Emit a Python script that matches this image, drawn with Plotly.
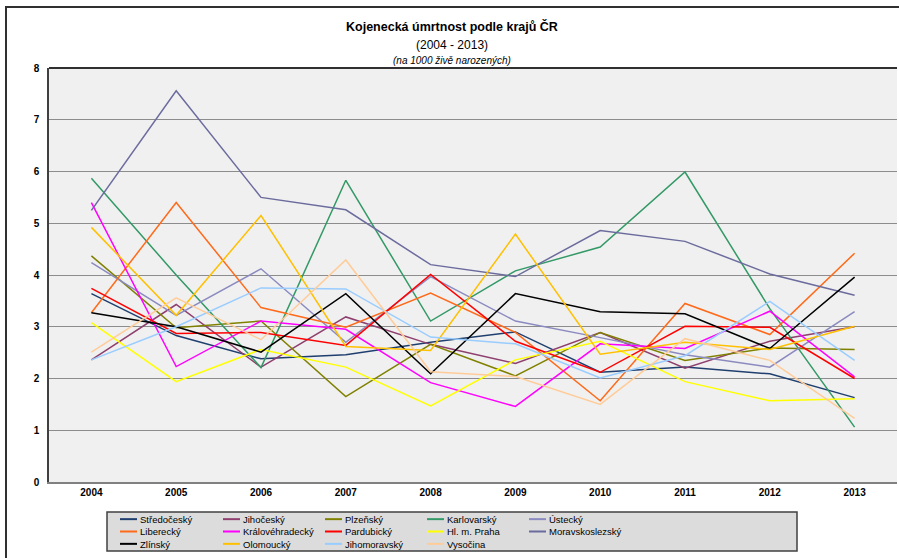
import plotly.graph_objects as go

years = ["2004", "2005", "2006", "2007", "2008", "2009", "2010", "2011", "2012", "2013"]

stredocesky      = [3.64, 2.83, 2.38, 2.46, 2.70, 2.90, 2.12, 2.22, 2.09, 1.63]
jihocesky        = [2.36, 3.43, 2.22, 3.19, 2.66, 2.29, 2.89, 2.20, 2.72, 3.00]
plzensky         = [4.37, 2.98, 3.11, 1.65, 2.66, 2.05, 2.89, 2.35, 2.59, 2.56]
karlovarsky      = [5.87, 4.00, 2.21, 5.83, 3.11, 4.08, 4.54, 5.99, 3.35, 1.06]
ustecky          = [4.24, 3.22, 4.12, 2.70, 3.97, 3.11, 2.79, 2.46, 2.22, 3.29]
liberecky        = [3.27, 5.40, 3.37, 2.99, 3.65, 2.89, 1.57, 3.45, 2.85, 4.42]
kralovehradecky  = [5.40, 2.23, 3.11, 2.95, 1.92, 1.46, 2.67, 2.58, 3.30, 2.03]
pardubicky       = [3.74, 2.87, 2.89, 2.64, 4.01, 2.72, 2.12, 3.01, 2.99, 2.00]
praha            = [3.08, 1.94, 2.56, 2.22, 1.47, 2.36, 2.72, 1.94, 1.57, 1.61]
moravskoslezsky  = [5.25, 7.56, 5.50, 5.26, 4.20, 3.97, 4.86, 4.65, 4.02, 3.61]
zlinsky          = [3.27, 3.00, 2.51, 3.64, 2.09, 3.64, 3.29, 3.25, 2.58, 3.96]
olomoucky        = [4.92, 3.22, 5.15, 2.62, 2.54, 4.79, 2.47, 2.70, 2.56, 3.01]
jihomoravsky     = [2.36, 3.00, 3.75, 3.73, 2.80, 2.67, 2.01, 2.44, 3.49, 2.35]
vysocina         = [2.51, 3.56, 2.75, 4.29, 2.13, 2.04, 1.50, 2.77, 2.35, 1.23]

y_ticks = [0, 1, 2, 3, 4, 5, 6, 7, 8]

series = [
    ("Středočeský", stredocesky, "#1F3F6E"),
    ("Jihočeský", jihocesky, "#8E3F6E"),
    ("Plzeňský", plzensky, "#808000"),
    ("Karlovarský", karlovarsky, "#339966"),
    ("Ústecký", ustecky, "#8A8AC0"),
    ("Liberecký", liberecky, "#FF6A1A"),
    ("Královéhradecký", kralovehradecky, "#FF00FF"),
    ("Pardubický", pardubicky, "#FF0000"),
    ("Hl. m. Praha", praha, "#FFFF00"),
    ("Moravskoslezský", moravskoslezsky, "#6B6B9E"),
    ("Zlínský", zlinsky, "#000000"),
    ("Olomoucký", olomoucky, "#FFC000"),
    ("Jihomoravský", jihomoravsky, "#99CCFF"),
    ("Vysočina", vysocina, "#FFCC99"),
]

FONT = "Liberation Sans Narrow, Liberation Sans, Arial, sans-serif"

fig = go.Figure()
for name, vals, col in series:
    fig.add_trace(go.Scatter(x=years, y=vals, mode="lines", name=name,
                             line=dict(color=col, width=1.5), showlegend=False))

W, H = 899, 558
L, R, T, B = 49, 2, 68, 76
pw, ph = W - L - R, H - T - B

def px2paper_x(px):
    return (px - L) / pw

def px2paper_y(py):
    return (H - B - py) / ph

fig.update_layout(
    width=W, height=H,
    margin=dict(l=L, r=R, t=T, b=B, autoexpand=False),
    paper_bgcolor="white",
    plot_bgcolor="#F0F0F0",
    font=dict(family=FONT, size=10, color="#000000"),
    showlegend=False,
    xaxis=dict(
        type="category",
        showgrid=False,
        showline=True, linecolor="#808080", linewidth=1.5,
        mirror=False,
        ticks="", tickfont=dict(family=FONT, size=10, color="#000000", weight="bold"),
        range=[-0.5, len(years) - 0.5],
        fixedrange=True,
    ),
    yaxis=dict(
        range=[0, 8],
        tickvals=y_ticks,
        showgrid=True, gridcolor="#8C8C8C", gridwidth=1,
        showline=True, linecolor="#404040", linewidth=1.5,
        mirror=False,
        ticks="", ticklabelstandoff=6,
        tickfont=dict(family=FONT, size=10, color="#000000", weight="bold"),
        zeroline=False,
        fixedrange=True,
    ),
)

# top border of the plot area
fig.add_shape(type="line", xref="paper", yref="paper", x0=0, x1=1, y0=1, y1=1,
              line=dict(color="#303030", width=2))
# outer chart frame
fig.add_shape(type="rect", xref="paper", yref="paper",
              x0=px2paper_x(6), x1=px2paper_x(920),
              y0=px2paper_y(580), y1=px2paper_y(7),
              line=dict(color="#303030", width=2), fillcolor="rgba(0,0,0,0)",
              layer="below")

# titles
fig.add_annotation(text="<b>Kojenecká úmrtnost podle krajů ČR</b>", xref="paper", yref="paper",
                   x=px2paper_x(452), y=px2paper_y(26), xanchor="center", yanchor="middle",
                   showarrow=False, font=dict(family=FONT, size=12.5))
fig.add_annotation(text="(2004 - 2013)", xref="paper", yref="paper",
                   x=px2paper_x(452), y=px2paper_y(45), xanchor="center", yanchor="middle",
                   showarrow=False, font=dict(family=FONT, size=12))
fig.add_annotation(text="<i>(na 1000 živě narozených)</i>", xref="paper", yref="paper",
                   x=px2paper_x(452), y=px2paper_y(61), xanchor="center", yanchor="middle",
                   showarrow=False, font=dict(family=FONT, size=10))

# legend box (drawn manually, 5 columns x 3 rows, row-major)
LEG_FS = 9.5
line_gap = LEG_FS * 1.3
mid_y = 531.5
fig.add_shape(type="rect", xref="paper", yref="paper",
              x0=px2paper_x(107), x1=px2paper_x(797),
              y0=px2paper_y(551), y1=px2paper_y(512),
              line=dict(color="#404040", width=1.5), fillcolor="#DCDCDC")
col_x = [120, 223, 325, 427, 529]
n_rows = 3
for c in range(5):
    names = []
    for r in range(n_rows):
        i = r * 5 + c
        if i >= len(series):
            continue
        name, vals, col = series[i]
        names.append(name)
        ly = mid_y + (r - 1) * line_gap
        fig.add_shape(type="line", xref="paper", yref="paper",
                      x0=px2paper_x(col_x[c]), x1=px2paper_x(col_x[c] + 17),
                      y0=px2paper_y(ly), y1=px2paper_y(ly),
                      line=dict(color=col, width=2))
    block_center = mid_y + (len(names) - 2) * line_gap / 2
    fig.add_annotation(text="<br>".join(names), xref="paper", yref="paper",
                       x=px2paper_x(col_x[c] + 18), y=px2paper_y(block_center),
                       xanchor="left", yanchor="middle", align="left", showarrow=False,
                       yshift=6,
                       font=dict(family=FONT, size=LEG_FS))

fig.write_html("out.html")
